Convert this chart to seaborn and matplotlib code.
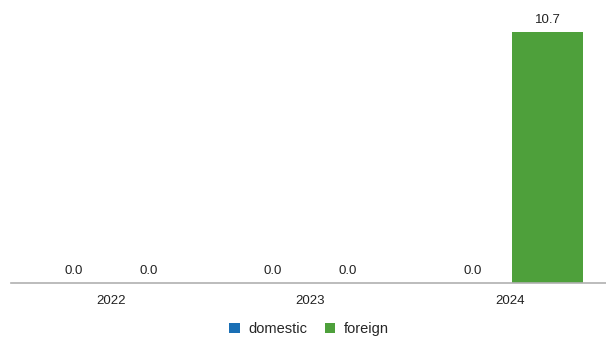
import pandas as pd
import matplotlib
matplotlib.use("Agg")
import matplotlib.pyplot as plt
import seaborn as sns

# data
years = ["2022", "2023", "2024"]
domestic = [0.0, 0.0, 0.0]
foreign = [0.0, 0.0, 10.7]

sns.set_style("white")
plt.rcParams['font.family'] = ['Liberation Sans', 'DejaVu Sans']

df = pd.DataFrame({"year": years, "domestic": domestic, "foreign": foreign})
dfM = df.melt(id_vars="year", value_vars=["domestic", "foreign"], var_name="type", value_name="value")

fig = plt.figure(figsize=(6.06, 3.41), dpi=100)
# axes runs a bit past the right edge, like the reference baseline
ax = fig.add_axes([11 / 606, 58 / 341, 599 / 606, 273 / 341])
sns.barplot(data=dfM, x="year", y="value", hue="type",
            palette=["#1a6fb5", "#4ea03b"], saturation=1,
            width=0.752, gap=0.053, linewidth=0, ax=ax)

for c in ax.containers:
    ax.bar_label(c, fmt="%.1f", padding=4, fontsize=9.5, color="#222222")

ax.set_xlim(-0.5, 2.5)
ax.set_ylim(0, 11.64)
ax.set_yticks([])
ax.set_xlabel("")
ax.set_ylabel("")
ax.tick_params(axis="x", length=0, pad=9, labelsize=9.5, colors="#222222")
for s in ["top", "right", "left"]:
    ax.spines[s].set_visible(False)
ax.spines["bottom"].set_color("#b0b0b0")
ax.spines["bottom"].set_linewidth(1.2)

handles, labels = ax.get_legend_handles_labels()
fig.legend(handles, labels, loc="center", bbox_to_anchor=(309 / 606, 1 - 329 / 341), ncol=2,
           frameon=False, fontsize=10.5, handlelength=0.7, handleheight=0.7,
           handletextpad=0.6, columnspacing=1.2)
ax.get_legend().remove()

fig.savefig("out.png", dpi=100)
